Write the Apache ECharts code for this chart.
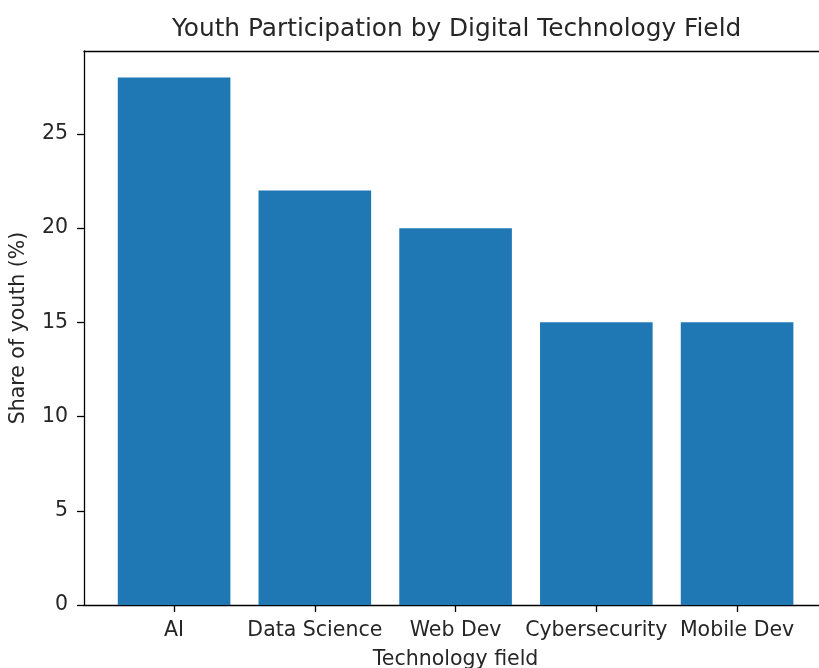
<!DOCTYPE html>
<html>
<head>
<meta charset="utf-8">
<script src="https://cdn.jsdelivr.net/npm/echarts@6/dist/echarts.min.js"></script>
<style>
  html, body { margin: 0; padding: 0; background: #fff; }
  #chart { width: 819px; height: 668px; }
</style>
</head>
<body>
<div id="chart"></div>
<script>
// Technology fields and the share of youth taking part in each
const categories = ['AI', 'Data Science', 'Web Dev', 'Cybersecurity', 'Mobile Dev'];
const shares = [28, 22, 20, 15, 15];
const yTickMax = 25;
const yTickStep = 5;
const yLimit = 29.4;

const FONT = '"DejaVu Sans", sans-serif';
const TEXT = '#262626';
const LINE = { color: '#000', width: 1.3 };

// Frame of the axes (spines) and the band area holding the five bars
const frameLeft = 84, frameTop = 51, frameHeight = 554, frameRight = 819;
const band = 140.75;                       // one category slot in px
const barsLeft = frameLeft + 0.14 * band;  // small margin before the first bar slot
const barsWidth = band * categories.length;
const tickTop = frameTop + frameHeight * (1 - yTickMax / yLimit);

const hiddenAxis = {
  axisLine: { show: false }, axisTick: { show: false },
  axisLabel: { show: false }, splitLine: { show: false }
};

const chart = echarts.init(document.getElementById('chart'));
chart.setOption({
  animation: false,
  backgroundColor: '#fff',
  title: {
    text: 'Youth Participation by Digital Technology Field',
    left: barsLeft + barsWidth / 2 - 4,
    textAlign: 'center',
    top: 12,
    textStyle: { fontFamily: FONT, fontSize: 24.8, fontWeight: 'normal', color: TEXT }
  },
  grid: [
    // 0: bars on a category scale
    { left: barsLeft, top: frameTop, width: barsWidth, height: frameHeight, outerBoundsMode: 'none' },
    // 1: spines
    { left: frameLeft, top: frameTop, width: frameRight - frameLeft, height: frameHeight, outerBoundsMode: 'none' },
    // 2: y ticks and labels (0..25)
    { left: frameLeft, top: tickTop, width: 10, height: frameTop + frameHeight - tickTop, outerBoundsMode: 'none' }
  ],
  xAxis: [
    {
      gridIndex: 0, type: 'category', data: categories,
      name: 'Technology field', nameLocation: 'middle', nameGap: 44,
      nameTextStyle: { fontFamily: FONT, fontSize: 20.5, color: TEXT },
      axisLine: { show: false },
      axisTick: { show: true, alignWithLabel: true, length: 7, lineStyle: LINE },
      axisLabel: { fontFamily: FONT, fontSize: 20.5, color: TEXT, margin: 15, interval: 0 },
      splitLine: { show: false }
    },
    {
      gridIndex: 1, type: 'value', min: 0, max: 1, position: 'bottom',
      axisLine: { show: true, lineStyle: LINE },
      axisTick: { show: false }, axisLabel: { show: false }, splitLine: { show: false }
    },
    {
      gridIndex: 1, type: 'value', min: 0, max: 1, position: 'top',
      axisLine: { show: true, lineStyle: LINE },
      axisTick: { show: false }, axisLabel: { show: false }, splitLine: { show: false }
    },
    Object.assign({ gridIndex: 2, type: 'value', min: 0, max: 1 }, hiddenAxis)
  ],
  yAxis: [
    Object.assign({ gridIndex: 0, type: 'value', min: 0, max: yLimit }, hiddenAxis),
    {
      gridIndex: 1, type: 'value', min: 0, max: yLimit,
      name: 'Share of youth (%)', nameLocation: 'middle', nameGap: 55,
      nameTextStyle: { fontFamily: FONT, fontSize: 20.5, color: TEXT },
      axisLine: { show: true, lineStyle: LINE },
      axisTick: { show: false }, axisLabel: { show: false }, splitLine: { show: false }
    },
    {
      gridIndex: 2, type: 'value', min: 0, max: yTickMax, interval: yTickStep,
      axisLine: { show: false },
      axisTick: { show: true, length: 7, lineStyle: LINE },
      axisLabel: { fontFamily: FONT, fontSize: 20.5, color: TEXT, margin: 16 },
      splitLine: { show: false }
    }
  ],
  series: [{
    type: 'bar',
    xAxisIndex: 0, yAxisIndex: 0,
    data: shares,
    barWidth: '80%',
    itemStyle: { color: '#1f77b4' }
  }]
});
</script>
</body>
</html>
